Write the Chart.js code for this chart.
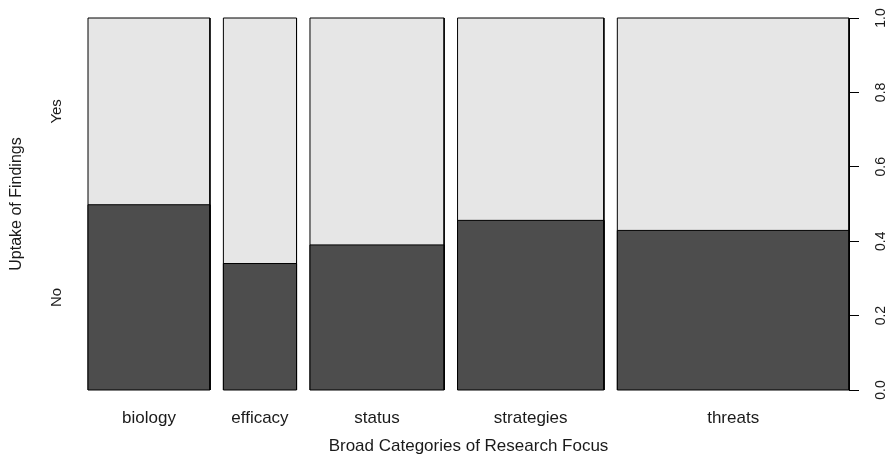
<!DOCTYPE html>
<html>
<head>
<meta charset="utf-8">
<script src="https://cdn.jsdelivr.net/npm/chart.js@4"></script>
<style>
html, body { margin: 0; padding: 0; background: #fff; }
#wrap { width: 890px; height: 460px; }
</style>
</head>
<body>
<div id="wrap"><canvas id="myChart" width="890" height="460"></canvas></div>
<script>
var categories = ['biology', 'efficacy', 'status', 'strategies', 'threats'];
var counts = [30, 18, 33, 36, 57];
var shareNo = [0.498, 0.34, 0.39, 0.456, 0.429];
var levels = ['No', 'Yes'];
var rightTicks = [0, 0.2, 0.4, 0.6, 0.8, 1.0];

// spineplot: bar widths follow the counts, with a small gap between bars
var gap = 0.019;
var total = counts.reduce((a, b) => a + b, 0);
var left = [], right = [], mid = [];
let pos = 0;
counts.forEach((c) => {
  let w = c / total;
  left.push(pos);
  right.push(pos + w);
  mid.push(pos + w / 2);
  pos += w + gap;
});

var datasets = [];
categories.forEach((name, i) => {
  datasets.push({
    label: name + ' Yes',
    data: [{x: left[i], y: 0}, {x: left[i], y: 1}, {x: right[i], y: 1}, {x: right[i], y: 0}],
    backgroundColor: '#e6e6e6',
    borderColor: '#000',
    borderWidth: 1,
    fill: 'origin',
    pointRadius: 0,
    clip: false,
    order: 3
  });
  datasets.push({
    label: name + ' No',
    data: [{x: left[i], y: 0}, {x: left[i], y: shareNo[i]}, {x: right[i], y: shareNo[i]}, {x: right[i], y: 0}],
    backgroundColor: '#4d4d4d',
    borderColor: '#000',
    borderWidth: 1,
    fill: 'origin',
    pointRadius: 0,
    clip: false,
    order: 2
  });
});

let bottomEdge = [];
categories.forEach((name, i) => {
  bottomEdge.push({x: left[i], y: 0}, {x: right[i], y: 0}, {x: right[i], y: null});
});
datasets.push({
  label: 'edge',
  data: bottomEdge,
  borderColor: '#000',
  borderWidth: 1,
  fill: false,
  pointRadius: 0,
  clip: false,
  order: 1
});

Chart.defaults.font.family = '"Liberation Sans", Arial, sans-serif';
Chart.defaults.color = '#1a1a1a';

let chartOne = document.getElementById('myChart');

const myChart = new Chart(chartOne, {
  type: 'line',
  data: { datasets: datasets },
  options: {
    responsive: false,
    animation: false,
    layout: { padding: { top: 18, left: 0, right: 0, bottom: 0 } },
    plugins: {
      legend: { display: false },
      tooltip: { enabled: false }
    },
    scales: {
      x: {
        type: 'linear',
        min: 0,
        max: pos - gap,
        grid: { display: false, drawTicks: false },
        border: { display: false },
        afterBuildTicks: (s) => { s.ticks = mid.map(v => ({value: v})); },
        ticks: {
          callback: (v, i) => categories[i],
          autoSkip: false,
          maxRotation: 0,
          padding: 18,
          font: { size: 17 }
        },
        title: {
          display: true,
          text: 'Broad Categories of Research Focus',
          font: { size: 17 },
          padding: { top: 0, bottom: 3 }
        },
        afterFit: (s) => { s.height = 70; }
      },
      y: {
        type: 'linear',
        position: 'left',
        min: 0,
        max: 1,
        grid: { display: false, drawTicks: false },
        border: { display: false },
        afterBuildTicks: (s) => { s.ticks = [{value: shareNo[0] / 2}, {value: (1 + shareNo[0]) / 2}]; },
        ticks: {
          callback: (v, i) => levels[i],
          minRotation: 90,
          maxRotation: 90,
          crossAlign: 'center',
          padding: 19,
          font: { size: 15 }
        },
        title: {
          display: true,
          text: 'Uptake of Findings',
          font: { size: 16 },
          padding: { top: 7, bottom: 0 }
        },
        afterFit: (s) => { s.width = 88; s.paddingTop = 0; s.paddingBottom = 0; }
      },
      y2: {
        type: 'linear',
        position: 'right',
        min: 0,
        max: 1,
        grid: { drawOnChartArea: false, drawTicks: true, tickLength: 10, color: '#000' },
        border: { display: true, color: '#000' },
        afterBuildTicks: (s) => { s.ticks = rightTicks.map(v => ({value: v})); },
        ticks: {
          callback: (v) => v.toFixed(1),
          minRotation: 90,
          maxRotation: 90,
          crossAlign: 'center',
          padding: 12,
          font: { size: 14 }
        },
        afterFit: (s) => { s.width = 41; s.paddingTop = 0; s.paddingBottom = 0; }
      }
    }
  }
});
</script>
</body>
</html>
